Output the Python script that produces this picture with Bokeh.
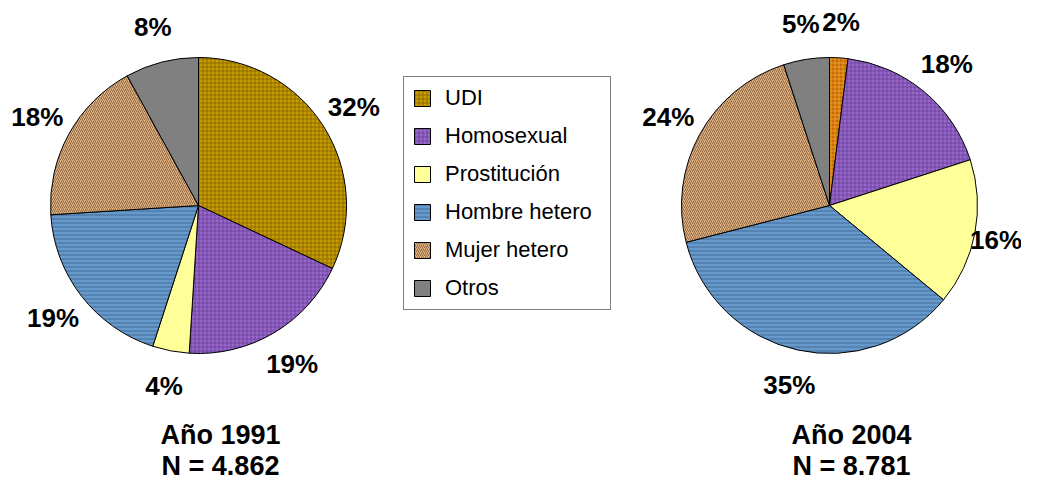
import numpy as np
from bokeh.plotting import figure
from bokeh.models import ColumnDataSource, Range1d, Legend, LegendItem
from bokeh.core.properties import value
from bokeh.embed import file_html
from bokeh.resources import INLINE

# ---- data ----
categories = ["UDI", "Homosexual", "Prostitución", "Hombre hetero", "Mujer hetero", "Otros"]
values_1991 = [32, 19, 4, 19, 18, 8]
values_2004 = [2, 18, 16, 35, 24, 5]
titles_1991 = ["Año 1991", "N = 4.862"]
titles_2004 = ["Año 2004", "N = 8.781"]

# ---- styles ----
fill_1991 = ["#C89B00", "#9966CC", "#FFFF99", "#6699CC", "#E3B585", "#808080"]
fill_2004 = ["#CC6A00", "#9966CC", "#FFFF99", "#6699CC", "#E3B585", "#808080"]
hatch_pat = ["+", "+", " ", "-", "/", " "]
hatch_col_1991 = ["#7A5E00", "#5E3C8C", "#FFFF99", "#35577F", "#6B4726", "#808080"]
hatch_col_2004 = ["#F0B040", "#5E3C8C", "#FFFF99", "#35577F", "#6B4726", "#808080"]

W, H = 1021, 483
FONT = "Liberation Sans"
LABEL_SIZE = 26

p = figure(width=W, height=H, x_range=Range1d(0, W), y_range=Range1d(0, H),
           output_backend="svg", toolbar_location=None, min_border=0)
p.axis.visible = False
p.grid.visible = False
p.outline_line_color = None
p.background_fill_color = "white"

R = 148
LABEL_R = 184


def pie(cx, cy, vals, fills, hcols):
    v = np.array(vals, dtype=float)
    frac = v / v.sum()
    cum = np.concatenate([[0], np.cumsum(frac)])
    start = np.pi / 2 - 2 * np.pi * cum[1:]
    end = np.pi / 2 - 2 * np.pi * cum[:-1]
    mid = (start + end) / 2
    lab = [f"{int(x)}%" for x in vals]
    lx = cx + LABEL_R * np.cos(mid)
    # keep labels inside the canvas
    half = np.array([0.3 * LABEL_SIZE * len(s) for s in lab])
    lx = np.minimum(lx, W - 2 - half)
    src = ColumnDataSource(dict(
        cat=categories, start=start, end=end, fill=fills, hcol=hcols,
        pat=hatch_pat, lx=lx, ly=cy + LABEL_R * np.sin(mid), lab=lab))
    r = p.wedge(x=cx, y=cy, radius=R, start_angle="start", end_angle="end",
                fill_color="fill", line_color="black", line_width=1,
                hatch_pattern="pat", hatch_color="hcol", hatch_scale=4,
                hatch_weight=1, hatch_alpha=0.7, source=src)
    p.text(x="lx", y="ly", text="lab", source=src, text_align="center",
           text_baseline="middle", text_font=value(FONT), text_font_style="bold",
           text_font_size=f"{LABEL_SIZE}px", text_color="black")
    return r


c1 = (198, H - 205)
c2 = (829, H - 205)
r1 = pie(*c1, values_1991, fill_1991, hatch_col_1991)
r2 = pie(*c2, values_2004, fill_2004, hatch_col_2004)

for (cx, cy), t in ((c1, titles_1991), (c2, titles_2004)):
    p.text(x=[cx + 22, cx + 22], y=[H - 434, H - 465], text=t,
           text_align="center", text_baseline="middle", text_font=value(FONT),
           text_font_style="bold", text_font_size="27px", text_color="black")

legend = Legend(items=[LegendItem(label=c, renderers=[r1], index=i)
                       for i, c in enumerate(categories)],
                location=(403, H - 310), orientation="vertical",
                label_text_font=FONT, label_text_font_size="22px",
                label_text_color="black", glyph_width=20, glyph_height=20,
                label_height=24, label_standoff=13, label_width=157,
                spacing=12, padding=8, margin=0,
                border_line_color="black", border_line_width=1,
                background_fill_color="white", background_fill_alpha=1)
p.add_layout(legend)

open("out.html", "w").write(file_html(p, INLINE))
